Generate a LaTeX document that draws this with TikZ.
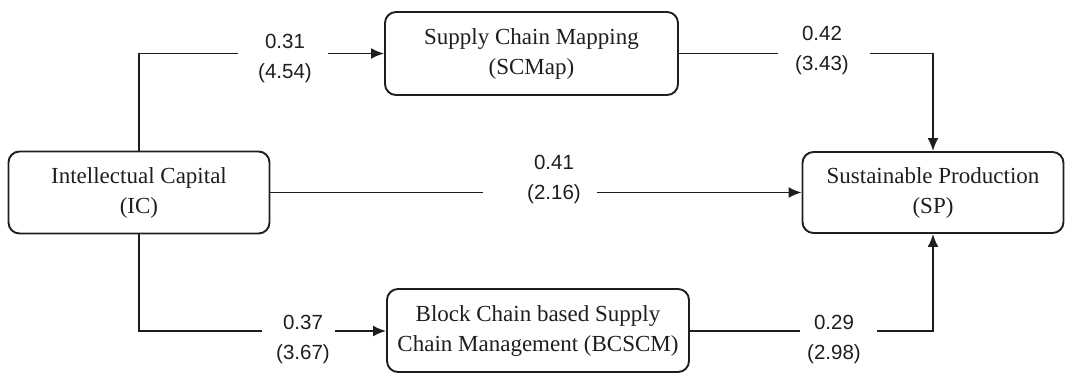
\documentclass[tikz,border=0pt]{standalone}
\usepackage{fontspec}
\setmainfont{Liberation Serif}
\newfontfamily\numfont{Liberation Sans}
\usetikzlibrary{arrows.meta}
\definecolor{ink}{HTML}{1E1E1E}

\begin{document}
\begin{tikzpicture}[x=1pt,y=-1pt,
  box/.style={draw=ink, line width=1.9pt, rounded corners=11pt, align=center,
    text=ink, font=\fontsize{23}{30}\selectfont, inner sep=0pt},
  est/.style={align=center, font=\numfont\fontsize{20.5}{30}\selectfont,
    text=ink, inner sep=0pt},
  link/.style={draw=ink, line width=1.9pt},
  arr/.style={link, -{Latex[length=13pt,width=11pt]}}]

\useasboundingbox (0,0) rectangle (1066,373);

% constructs
\node[box, minimum width=261pt, minimum height=82pt] (IC) at (139,192.5)
  {Intellectual Capital\\(IC)};
\node[box, minimum width=293pt, minimum height=83pt] (SCMap) at (531.5,53.5)
  {Supply Chain Mapping\\(SCMap)};
\node[box, minimum width=261pt, minimum height=81pt] (SP) at (933,192.5)
  {Sustainable Production\\(SP)};
\node[box, minimum width=302pt, minimum height=83pt] (BCSCM) at (538,330.5)
  {Block Chain based Supply\\Chain Management (BCSCM)};

% path estimates (t-values in brackets)
\node[est] (l1) at (285,58) {0.31\\(4.54)};
\node[est] (l2) at (822,50) {0.42\\(3.43)};
\node[est] (l3) at (554,179) {0.41\\(2.16)};
\node[est] (l4) at (303,339) {0.37\\(3.67)};
\node[est] (l5) at (834,339) {0.29\\(2.98)};

% gap ends around the estimates
\coordinate (a1) at (238,53.5);  \coordinate (a2) at (328,53.5);
\coordinate (b1) at (778,53.5);  \coordinate (b2) at (870,53.5);
\coordinate (c1) at (483,192.5); \coordinate (c2) at (597,192.5);
\coordinate (d1) at (262,331);   \coordinate (d2) at (335,331);
\coordinate (e1) at (800,331);   \coordinate (e2) at (877,331);

% IC -> SCMap
\draw[link] (IC.north) |- (a1);
\draw[arr] (a2) -- (SCMap.west);
% SCMap -> SP
\draw[link] (SCMap.east |- a1) -- (b1);
\draw[arr] (b2) -| (SP.north);
% IC -> SP
\draw[link] (IC.east) -- (c1);
\draw[arr] (c2) -- (SP.west);
% IC -> BCSCM
\draw[link] (IC.south) |- (d1);
\draw[arr] (d2) -- (BCSCM.west |- d2);
% BCSCM -> SP
\draw[link] (BCSCM.east |- e1) -- (e1);
\draw[arr] (e2) -| (SP.south);
\end{tikzpicture}
\end{document}
